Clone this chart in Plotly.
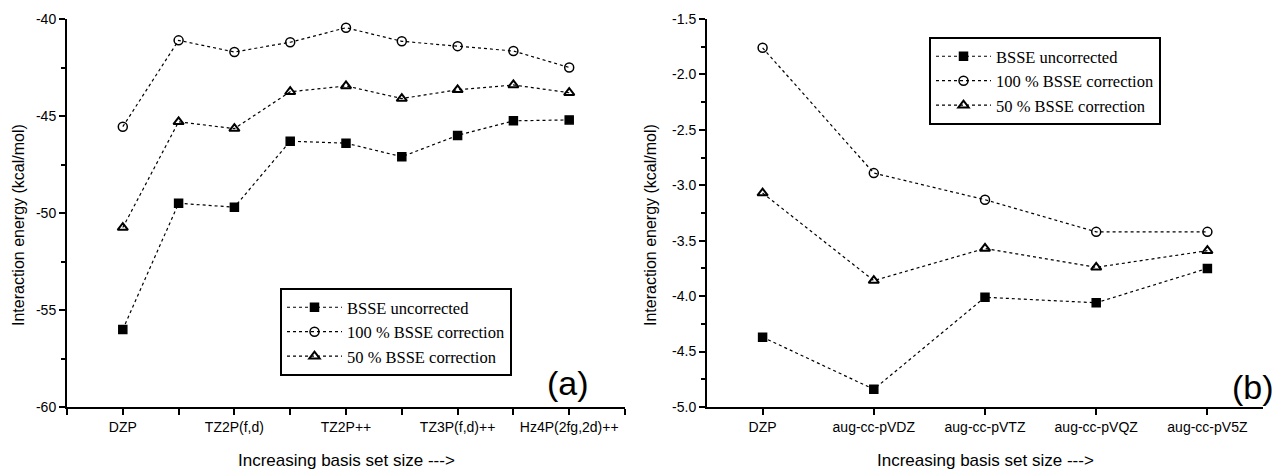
import plotly.graph_objects as go

# ---- Panel (a) data ----
a_pos = [1, 2, 3, 4, 5, 6, 7, 8, 9]
a_tickvals = [0, 1, 2, 3, 4, 5, 6, 7, 8, 9, 10]
a_ticktext = ["", "DZP", "", "TZ2P(f,d)", "", "TZ2P++", "", "TZ3P(f,d)++", "", "Hz4P(2fg,2d)++", ""]
a_ytickvals = [-60, -55, -50, -45, -40]
a_yticktext = ["-60", "-55", "-50", "-45", "-40"]
a_uncorr = [-56.0, -49.5, -49.7, -46.3, -46.4, -47.1, -46.0, -45.25, -45.2]
a_full = [-45.55, -41.1, -41.7, -41.2, -40.45, -41.15, -41.4, -41.65, -42.5]
a_half = [-50.75, -45.3, -45.65, -43.75, -43.45, -44.1, -43.65, -43.4, -43.8]

# ---- Panel (b) data ----
b_pos = [1, 2, 3, 4, 5]
b_labels = ["DZP", "aug-cc-pVDZ", "aug-cc-pVTZ", "aug-cc-pVQZ", "aug-cc-pV5Z"]
b_ytickvals = [-5.0, -4.5, -4.0, -3.5, -3.0, -2.5, -2.0, -1.5]
b_yticktext = ["-5.0", "-4.5", "-4.0", "-3.5", "-3.0", "-2.5", "-2.0", "-1.5"]
b_uncorr = [-4.37, -4.84, -4.01, -4.06, -3.75]
b_full = [-1.76, -2.89, -3.13, -3.42, -3.42]
b_half = [-3.07, -3.86, -3.57, -3.74, -3.59]

names = ["BSSE uncorrected", "100 % BSSE correction", "50 % BSSE correction"]
symbols = ["square", "circle-open", "triangle-up-open"]
sizes = [8, 9, 9]

fig = go.Figure()

def add_series(xs, ys_list, xaxis, yaxis, legend):
    for ys, nm, sym, sz in zip(ys_list, names, symbols, sizes):
        fig.add_trace(go.Scatter(
            x=xs, y=ys, name=nm, mode="lines+markers",
            xaxis=xaxis, yaxis=yaxis, legend=legend,
            line=dict(color="black", width=1.2, dash="dot"),
            marker=dict(symbol=sym, size=sz, color="black",
                        line=dict(color="black", width=2 if "triangle" in sym else 1.5)),
        ))

add_series(a_pos, [a_uncorr, a_full, a_half], "x", "y", "legend")
add_series(b_pos, [b_uncorr, b_full, b_half], "x2", "y2", "legend2")

tickfont = dict(family="Liberation Sans, Arial, sans-serif", size=14, color="black")
ydom = [1 - 407 / 470, 1 - 19 / 470]

axis_common = dict(showline=True, linecolor="black", linewidth=2, ticks="outside",
                   tickcolor="black", tickwidth=2, ticklen=6, showgrid=False,
                   zeroline=False, tickfont=tickfont, automargin=False)

legend_font = dict(family="Liberation Serif, Times New Roman, serif", size=16.5, color="black")

fig.update_layout(
    width=1276, height=470,
    margin=dict(l=0, r=0, t=0, b=0),
    paper_bgcolor="white", plot_bgcolor="white",
    showlegend=True,
    xaxis=dict(domain=[67 / 1276, 625 / 1276], range=[0, 10], tickmode="array",
               tickvals=a_tickvals, ticktext=a_ticktext, anchor="y", **axis_common),
    yaxis=dict(domain=ydom, range=[-60, -40], tickmode="array", tickvals=a_ytickvals,
               ticktext=a_yticktext, anchor="x",
               minor=dict(dtick=2.5, tick0=-60, ticks="outside", ticklen=4, tickwidth=1.5, tickcolor="black"),
               **axis_common),
    xaxis2=dict(domain=[707 / 1276, 1263 / 1276], range=[0.5, 5.5], tickmode="array",
                tickvals=b_pos, ticktext=b_labels, anchor="y2", **axis_common),
    yaxis2=dict(domain=ydom, range=[-5.0, -1.5], tickmode="array", tickvals=b_ytickvals,
                ticktext=b_yticktext, anchor="x2",
                minor=dict(dtick=0.25, tick0=-5, ticks="outside", ticklen=4, tickwidth=1.5, tickcolor="black"),
                **axis_common),
    legend=dict(x=280 / 1276, y=1 - 288 / 470, xanchor="left", yanchor="top",
                bordercolor="black", borderwidth=2, bgcolor="white",
                font=legend_font, tracegroupgap=0, itemwidth=55),
    legend2=dict(x=929 / 1276, y=1 - 37 / 470, xanchor="left", yanchor="top",
                 bordercolor="black", borderwidth=2, bgcolor="white",
                 font=legend_font, tracegroupgap=0, itemwidth=55),
)

title_font = dict(family="Liberation Sans, Arial, sans-serif", size=17, color="black")
ytitle_font = dict(family="Liberation Sans, Arial, sans-serif", size=16, color="black")
ann = [
    dict(text="Interaction energy (kcal/mol)", x=18 / 1276, y=1 - 225 / 470, textangle=-90, font=ytitle_font),
    dict(text="Interaction energy (kcal/mol)", x=650 / 1276, y=1 - 225 / 470, textangle=-90, font=ytitle_font),
    dict(text="Increasing basis set size --->", x=346 / 1276, y=1 - 460 / 470, textangle=0, font=title_font),
    dict(text="Increasing basis set size --->", x=985 / 1276, y=1 - 460 / 470, textangle=0, font=title_font),
]
for a in ann:
    fig.add_annotation(xref="paper", yref="paper", showarrow=False,
                       xanchor="center", yanchor="middle", **a)

fig.add_annotation(text="(a)", xref="paper", yref="paper", x=568 / 1276, y=1 - 383 / 470,
                   showarrow=False, xanchor="center", yanchor="middle",
                   font=dict(family="Liberation Sans, Arial, sans-serif", size=34, color="black"))
fig.add_annotation(text="(b)", xref="paper", yref="paper", x=1253 / 1276, y=1 - 387 / 470,
                   showarrow=False, xanchor="center", yanchor="middle",
                   font=dict(family="Liberation Sans, Arial, sans-serif", size=34, color="black"))

fig.write_html("out.html", config={"displayModeBar": False},
               post_script="document.body.style.margin='0';document.body.style.overflow='hidden';")
